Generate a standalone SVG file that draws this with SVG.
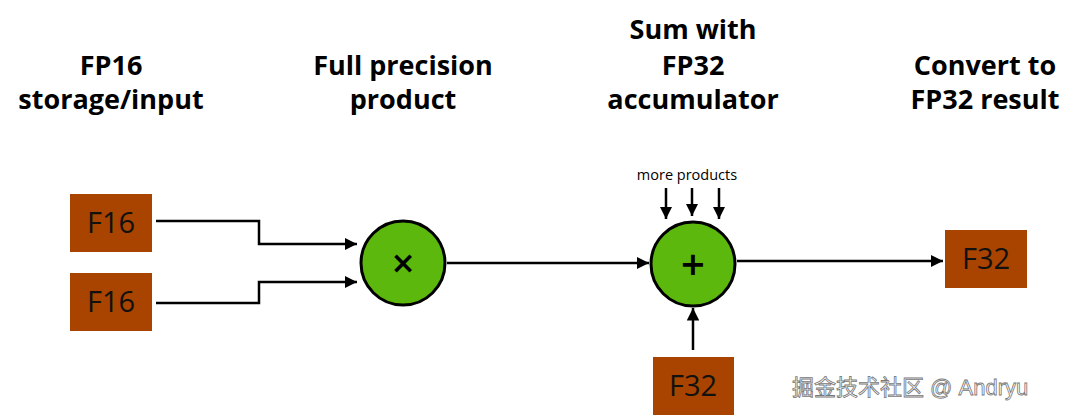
<svg xmlns="http://www.w3.org/2000/svg" width="1080" height="420" viewBox="0 0 1080 420">
<defs>
<style>
.hdr{font-family:"Open Sans","Liberation Sans",sans-serif;font-weight:700;font-size:27px;fill:#000;text-anchor:middle}
.box{fill:#a84300}
.bt{font-family:"Open Sans","Liberation Sans",sans-serif;font-size:29px;fill:#111;text-anchor:middle}
.op{fill:#5cb80c;stroke:#000;stroke-width:3}
.ln{fill:none;stroke:#000;stroke-width:2.5}
.sm{font-family:"Open Sans","Liberation Sans",sans-serif;font-size:14.5px;fill:#000;text-anchor:middle}
.wm{font-family:"Liberation Sans","Noto Sans CJK SC",sans-serif;font-size:22px;fill:#fff;stroke:#777;stroke-width:0.8}
</style>
<marker id="ah" viewBox="0 0 10 10" refX="10" refY="5" markerWidth="5" markerHeight="5" orient="auto" markerUnits="strokeWidth">
<path d="M0,0 L10,5 L0,10 z" fill="#000"/>
</marker>
</defs>
<rect width="1080" height="420" fill="#fff"/>
<g id="headers">
<text class="hdr" x="111" y="75">FP16</text>
<text class="hdr" x="111" y="109">storage/input</text>
<text class="hdr" x="403" y="75">Full precision</text>
<text class="hdr" x="403" y="109">product</text>
<text class="hdr" x="693" y="39">Sum with</text>
<text class="hdr" x="693" y="75">FP32</text>
<text class="hdr" x="693" y="109">accumulator</text>
<text class="hdr" x="985" y="75">Convert to</text>
<text class="hdr" x="985" y="109">FP32 result</text>
</g>
<g id="connectors">
<path class="ln" d="M156,221 H259 V244 H357" marker-end="url(#ah)"/>
<path class="ln" d="M156,303 H259 V282 H357" marker-end="url(#ah)"/>
<path class="ln" d="M447,263 H649" marker-end="url(#ah)"/>
<path class="ln" d="M666,188 V219" marker-end="url(#ah)"/>
<path class="ln" d="M692,188 V216" marker-end="url(#ah)"/>
<path class="ln" d="M719,188 V219" marker-end="url(#ah)"/>
<path class="ln" d="M693,350 V308" marker-end="url(#ah)"/>
<path class="ln" d="M737,261 H943" marker-end="url(#ah)"/>
</g>
<g id="f16a"><rect class="box" x="70" y="194" width="82" height="58"/><text class="bt" x="111" y="233">F16</text></g>
<g id="f16b"><rect class="box" x="70" y="273" width="82" height="58"/><text class="bt" x="111" y="312">F16</text></g>
<g id="mul"><circle class="op" cx="403" cy="263" r="42"/><text x="403" y="273" font-family="DejaVu Sans,sans-serif" font-weight="700" font-size="30" text-anchor="middle">×</text></g>
<g id="add"><circle class="op" cx="693" cy="264" r="42"/><text x="693" y="275" font-family="DejaVu Sans,sans-serif" font-weight="700" font-size="32" text-anchor="middle">+</text></g>
<g id="more"><text class="sm" x="687" y="180">more products</text></g>
<g id="f32acc"><rect class="box" x="653" y="357" width="81" height="58"/><text class="bt" x="693" y="396">F32</text></g>
<g id="f32res"><rect class="box" x="945" y="230" width="82" height="58"/><text class="bt" x="986" y="269">F32</text></g>
<text class="wm" x="792" y="395">掘金技术社区 @ Andryu</text>
</svg>
